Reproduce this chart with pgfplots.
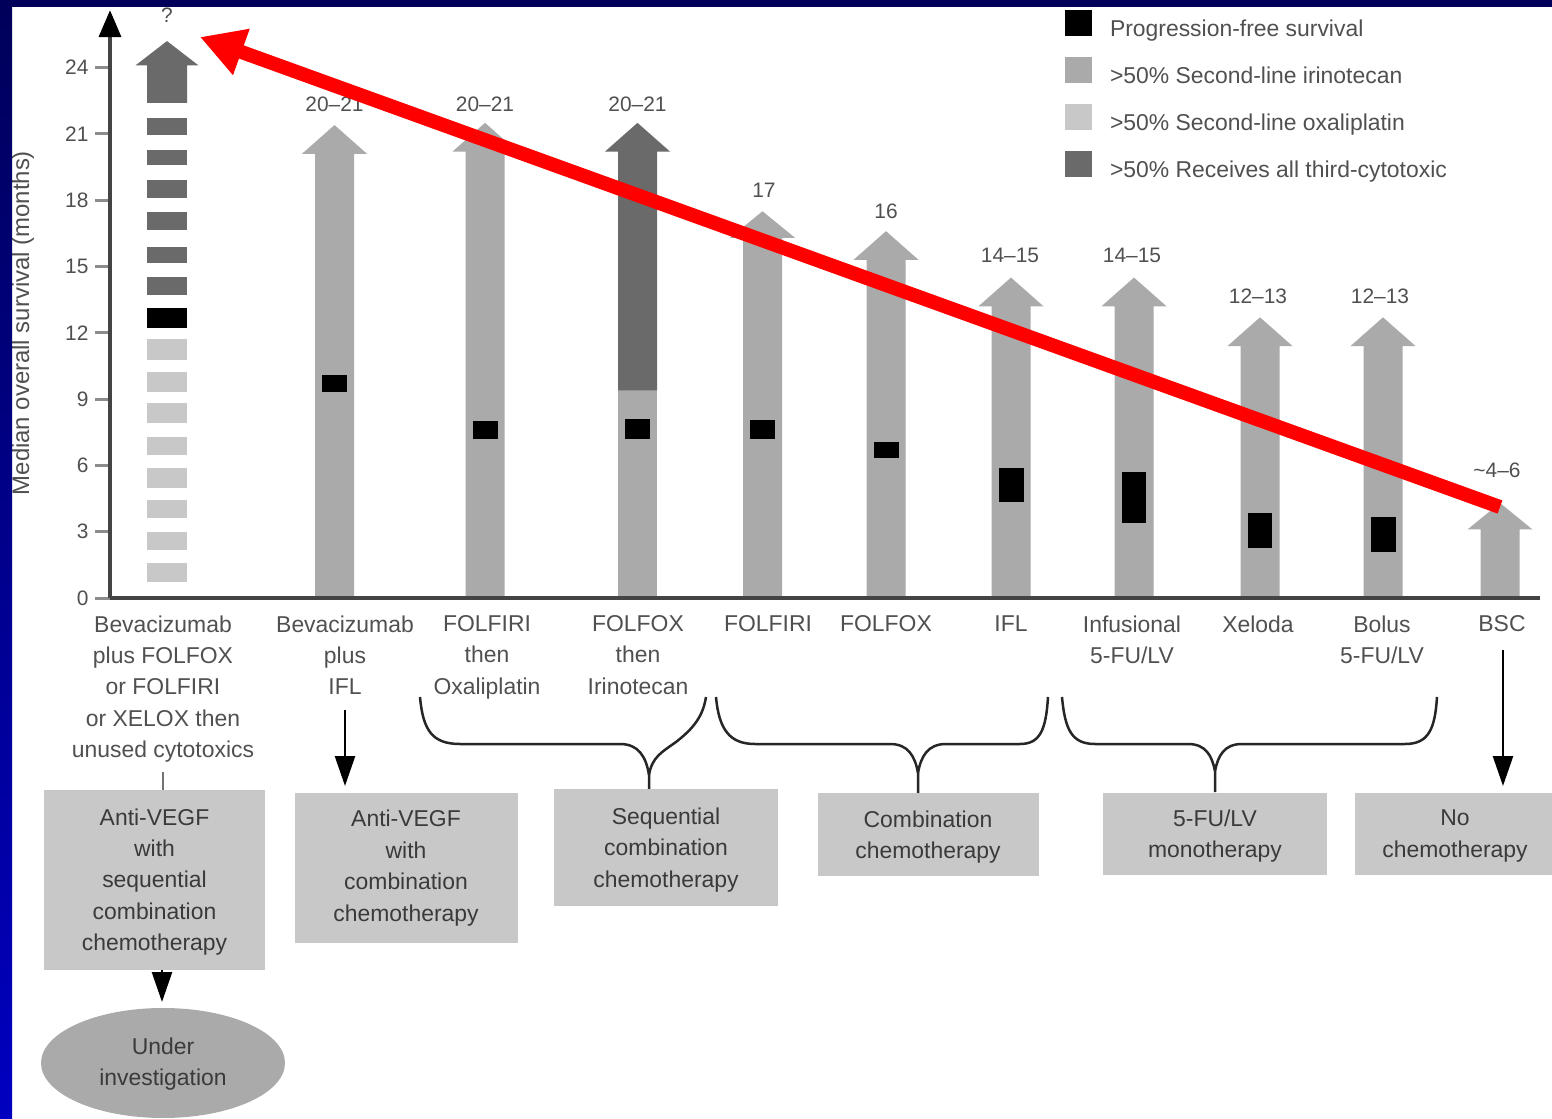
\documentclass[border=0pt]{standalone}
\usepackage{pgfplots}
\pgfplotsset{compat=1.18}
\usetikzlibrary{arrows.meta}
\usepackage{fontspec}
\setmainfont{Liberation Sans}
\definecolor{midgray}{HTML}{AAAAAA}
\definecolor{lightgray2}{HTML}{C8C8C8}
\definecolor{darkgray2}{HTML}{6A6A6A}
\definecolor{txt}{HTML}{505050}
\definecolor{boxtxt}{HTML}{3A3A3A}
\definecolor{axisgray}{HTML}{444444}
\definecolor{navytop}{HTML}{00005A}
\definecolor{bluebot}{HTML}{0000C0}

% rectangle: x1 x2 y1 y2 colour
\newcommand{\rect}[5]{\addplot[fill=#5, draw=none, forget plot] coordinates {(#1,#3) (#2,#3) (#2,#4) (#1,#4)} --cycle;}
% arrow: shaft-left shaft-right head-left head-right centre bottom base tip colour
\newcommand{\arrowpoly}[9]{\addplot[fill=#9, draw=none, forget plot] coordinates {(#1,#6) (#1,#7) (#3,#7) (#5,#8) (#4,#7) (#2,#7) (#2,#6)} --cycle;}

\begin{document}
\begin{tikzpicture}
\begin{scope}[x=1bp,y=-1bp]
\fill[white] (0,0) rectangle (1552,1119);
\end{scope}

\begin{axis}[
  at={(110bp,-598bp)}, anchor=south west,
  x=1bp, y=22.1bp,
  xmin=110, xmax=1540, ymin=0, ymax=26.6,
  axis on top, clip=false,
  axis x line=bottom, axis y line=left,
  x axis line style={-, line width=4bp, color=axisgray},
  y axis line style={-{Triangle[length=27bp,width=22bp,color=black]}, line width=3.5bp, color=axisgray},
  ytick={0,3,...,24}, ytick align=outside, major tick length=15bp,
  ytick style={line width=3bp, color=black!45},
  yticklabel style={font=\fontsize{21}{24}\selectfont, text=txt, xshift=-3bp},
  /pgf/number format/assume math mode=true,
  xtick={163,345,487,638,768,886,1011,1132,1258,1382,1502},
  xticklabels={{Bevacizumab\\plus FOLFOX\\or FOLFIRI\\or XELOX then\\unused cytotoxics},
    {Bevacizumab\\plus\\IFL},{FOLFIRI\\then\\Oxaliplatin},{FOLFOX\\then\\Irinotecan},
    {FOLFIRI},{FOLFOX},{IFL},{Infusional\\5-FU/LV},{Xeloda},{Bolus\\5-FU/LV},{BSC}},
  xtick style={draw=none}, xtick align=inside,
  xticklabel style={align=center, font=\fontsize{23}{31.5}\selectfont, text=txt, anchor=north, yshift=-14bp},
  ylabel={Median overall survival (months)},
  every axis y label/.style={at={(axis cs:23,12.44)}, rotate=90, anchor=center, font=\fontsize{24}{28}\selectfont, text=txt},
  legend style={at={(axis cs:1065,26.61)}, anchor=north west, draw=none, fill=none,
    inner sep=0pt, outer sep=0pt, row sep=12.5bp, column sep=16bp,
    font=\fontsize{23}{27}\selectfont, text=txt,
    nodes={inner sep=2bp, text height=17bp, text depth=6bp}},
  legend cell align=left,
  legend image code/.code={\fill[#1] (0bp,-5bp) rectangle (27bp,21bp);},
]
\addlegendimage{fill=black, draw=none}
\addlegendentry{Progression-free survival}
\addlegendimage{fill=midgray, draw=none}
\addlegendentry{>50\% Second-line irinotecan}
\addlegendimage{fill=lightgray2, draw=none}
\addlegendentry{>50\% Second-line oxaliplatin}
\addlegendimage{fill=darkgray2, draw=none}
\addlegendentry{>50\% Receives all third-cytotoxic}

% arrow 1: segmented
\rect{147}{187}{0.72}{1.58}{lightgray2}
\rect{147}{187}{2.17}{2.99}{lightgray2}
\rect{147}{187}{3.62}{4.43}{lightgray2}
\rect{147}{187}{4.98}{5.88}{lightgray2}
\rect{147}{187}{6.47}{7.29}{lightgray2}
\rect{147}{187}{7.92}{8.82}{lightgray2}
\rect{147}{187}{9.32}{10.23}{lightgray2}
\rect{147}{187}{10.77}{11.72}{lightgray2}
\rect{147}{187}{12.22}{13.12}{black}
\rect{147}{187}{13.71}{14.52}{darkgray2}
\rect{147}{187}{15.16}{15.88}{darkgray2}
\rect{147}{187}{16.65}{17.47}{darkgray2}
\rect{147}{187}{18.10}{18.91}{darkgray2}
\rect{147}{187}{19.59}{20.27}{darkgray2}
\rect{147}{187}{20.95}{21.72}{darkgray2}
\arrowpoly{147}{187}{135.5}{198.5}{167}{22.4}{24.1}{25.2}{darkgray2}

% arrows 2..11
\arrowpoly{315}{354}{302}{367}{334.5}{0}{20.1}{21.4}{midgray}
\arrowpoly{465.5}{504.5}{452.5}{517.5}{485}{0}{20.2}{21.5}{midgray}
\rect{618}{657}{0}{9.4}{midgray}
\arrowpoly{618}{657}{605}{670}{637.5}{9.4}{20.2}{21.5}{darkgray2}
\arrowpoly{743}{782}{730}{795}{762.5}{0}{16.3}{17.5}{midgray}
\arrowpoly{866.5}{905.5}{853.5}{918.5}{886}{0}{15.3}{16.6}{midgray}
\arrowpoly{991.5}{1030.5}{978.5}{1043.5}{1011}{0}{13.2}{14.5}{midgray}
\arrowpoly{1114.5}{1153.5}{1101.5}{1166.5}{1134}{0}{13.2}{14.5}{midgray}
\arrowpoly{1240.5}{1279.5}{1227.5}{1292.5}{1260}{0}{11.4}{12.7}{midgray}
\arrowpoly{1363.5}{1402.5}{1350.5}{1415.5}{1383}{0}{11.4}{12.7}{midgray}
\arrowpoly{1480.5}{1519.5}{1467.5}{1532.5}{1500}{0}{3.1}{4.3}{midgray}

% progression-free survival
\rect{322}{347}{9.3}{10.1}{black}
\rect{472.5}{497.5}{7.2}{8.0}{black}
\rect{625}{650}{7.2}{8.1}{black}
\rect{750}{775}{7.2}{8.05}{black}
\rect{873.5}{898.5}{6.35}{7.05}{black}
\rect{999}{1024}{4.35}{5.9}{black}
\rect{1122}{1146}{3.4}{5.7}{black}
\rect{1248}{1272}{2.25}{3.85}{black}
\rect{1371}{1396}{2.1}{3.65}{black}

% value labels
\begin{scope}[every node/.style={font=\fontsize{21}{24}\selectfont, text=txt}]
\node at (axis cs:167,26.35) {?};
\node at (axis cs:334.5,22.35) {20\textendash 21};
\node at (axis cs:485,22.35) {20\textendash 21};
\node at (axis cs:637.5,22.35) {20\textendash 21};
\node at (axis cs:764,18.46) {17};
\node at (axis cs:886,17.5) {16};
\node at (axis cs:1010,15.48) {14\textendash 15};
\node at (axis cs:1132,15.48) {14\textendash 15};
\node at (axis cs:1258,13.67) {12\textendash 13};
\node at (axis cs:1380,13.67) {12\textendash 13};
\node at (axis cs:1497,5.79) {\textasciitilde 4\textendash 6};
\end{scope}
\end{axis}

\begin{scope}[x=1bp,y=-1bp]
% braces
\begin{scope}[line width=2.5bp, draw=black!85]
\draw (420,697) .. controls (423,730) and (432,744) .. (460,744) -- (620,744)
  .. controls (638,744) and (646,756) .. (649,775) -- (649,790);
\draw (649,775) .. controls (652,757) and (662,752) .. (676,742)
  .. controls (694,728) and (703,716) .. (706,697);
\draw (716,697) .. controls (719,730) and (730,744) .. (755,744) -- (890,744)
  .. controls (908,744) and (915,756) .. (918,773) -- (918,793);
\draw (918,773) .. controls (921,756) and (928,744) .. (946,744) -- (1020,744)
  .. controls (1040,744) and (1046,730) .. (1048,697);
\draw (1062,697) .. controls (1065,730) and (1072,744) .. (1095,744) -- (1188,744)
  .. controls (1206,744) and (1212,756) .. (1215,771) -- (1215,792);
\draw (1215,771) .. controls (1218,756) and (1224,744) .. (1242,744) -- (1405,744)
  .. controls (1428,744) and (1435,730) .. (1437,697);
\end{scope}
% connectors
\draw[black!55, line width=2bp] (163,772) -- (163,790);
\draw[black, line width=2.5bp, -{Triangle[length=30bp,width=20bp]}] (345,710) -- (345,786);
\draw[black, line width=2.5bp, -{Triangle[length=30bp,width=20bp]}] (1503,650) -- (1503,786);
\draw[black, line width=2.5bp, -{Triangle[length=30bp,width=20bp]}] (162,968) -- (162,1002);
% boxes
\fill[lightgray2] (44,790) rectangle (265,970);
\fill[lightgray2] (295,793) rectangle (518,943);
\fill[lightgray2] (554,789) rectangle (778,906);
\fill[lightgray2] (818,793) rectangle (1039,876);
\fill[lightgray2] (1103,793) rectangle (1327,875);
\fill[lightgray2] (1355,793) rectangle (1552,875);
\fill[midgray] (163,1063) ellipse [x radius=122, y radius=55];
\begin{scope}[every node/.style={align=center, font=\fontsize{23}{31.5}\selectfont, text=boxtxt}]
\node at (154.5,882) {Anti-VEGF\\with\\sequential\\combination\\chemotherapy};
\node at (406,868) {Anti-VEGF\\with\\combination\\chemotherapy};
\node at (666,850) {Sequential\\combination\\chemotherapy};
\node at (928,837) {Combination\\chemotherapy};
\node at (1215,836) {5-FU/LV\\monotherapy};
\node at (1455,836) {No\\chemotherapy};
\node at (163,1064) {Under\\investigation};
\end{scope}
% red arrow
\draw[red, line width=14bp, -{Triangle[length=44bp,width=46bp]}] (1500,507) -- (200,37);
% blue frame
\shade[top color=navytop, bottom color=bluebot] (0,0) rectangle (12,1119);
\fill[navytop] (0,0) rectangle (1552,7);
\end{scope}
\pgfresetboundingbox
\path[use as bounding box] (0bp,0bp) rectangle (1552bp,-1119bp);
\end{tikzpicture}
\end{document}
